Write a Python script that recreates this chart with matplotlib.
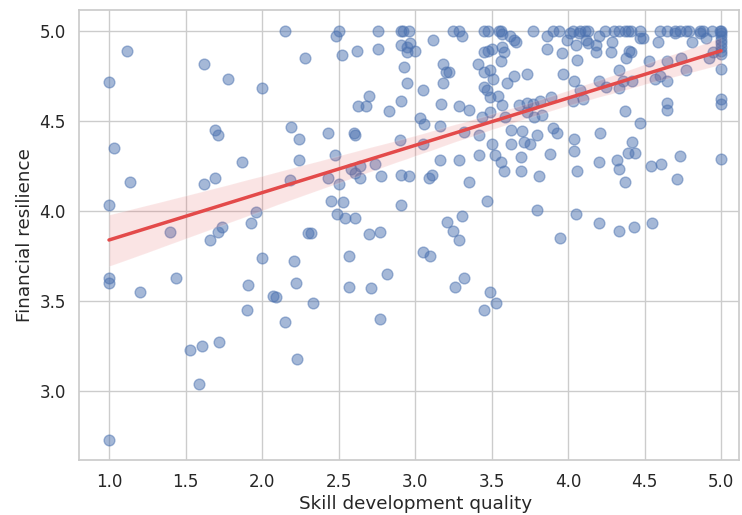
import numpy as np
import matplotlib
matplotlib.use("Agg")
import matplotlib.pyplot as plt
import seaborn as sns

# (skill development quality, financial resilience) pairs,
# grouped by x band
band_1_to_2 = [
    (1.0, 4.715), (1.0, 4.03), (1.0, 3.63), (1.0, 3.60), (1.0, 2.73),
    (1.115, 4.89), (1.03, 4.35), (1.14, 4.16), (1.20, 3.55), (1.40, 3.885),
    (1.435, 3.63), (1.53, 3.23), (1.59, 3.04), (1.61, 3.25), (1.62, 4.815),
    (1.62, 4.15), (1.66, 3.84), (1.69, 4.45), (1.69, 4.18), (1.71, 4.42),
    (1.72, 3.27), (1.71, 3.88), (1.74, 3.91), (1.78, 4.73), (1.87, 4.27),
    (1.905, 3.45), (1.91, 3.59), (1.93, 3.93), (1.96, 3.995),
]
band_2_to_3 = [
    (2.0, 4.68), (2.0, 3.74), (2.07, 3.53), (2.09, 3.52), (2.15, 5.0),
    (2.15, 3.385), (2.18, 4.17), (2.19, 4.465), (2.21, 3.72), (2.22, 3.60),
    (2.24, 4.40), (2.24, 4.28), (2.23, 3.18), (2.28, 4.85), (2.30, 3.876),
    (2.32, 3.876), (2.33, 3.49), (2.43, 4.435), (2.43, 4.185), (2.45, 4.055),
    (2.475, 4.31), (2.486, 4.974), (2.503, 5.0), (2.50, 4.15), (2.52, 4.865),
    (2.53, 4.05), (2.49, 3.98), (2.54, 3.96), (2.61, 3.96), (2.57, 3.75),
    (2.57, 3.58), (2.58, 4.23), (2.60, 4.43), (2.61, 4.42), (2.61, 4.21),
    (2.62, 4.89), (2.63, 4.58), (2.64, 4.185), (2.64, 4.25), (2.68, 4.58),
    (2.70, 4.64), (2.70, 3.87), (2.71, 3.57), (2.74, 4.26), (2.76, 5.0),
    (2.76, 4.90), (2.77, 3.885), (2.77, 3.40), (2.78, 4.195), (2.82, 3.65),
    (2.83, 4.555), (2.90, 4.395), (2.91, 5.0), (2.92, 5.0), (2.96, 5.0),
    (2.91, 4.92), (2.93, 4.80), (2.91, 4.61), (2.91, 4.20), (2.91, 4.03),
    (2.946, 4.91), (2.968, 4.93), (2.95, 4.88), (2.95, 4.71), (2.96, 4.195),
]
band_3_to_3_6 = [
    (3.0, 4.89), (3.03, 4.515), (3.05, 4.67), (3.05, 4.37), (3.06, 4.48),
    (3.05, 3.77), (3.10, 3.75), (3.09, 4.18), (3.11, 4.20), (3.12, 4.95),
    (3.16, 4.47), (3.16, 4.28), (3.17, 4.595), (3.18, 4.815), (3.18, 4.71),
    (3.20, 4.77), (3.22, 4.77), (3.21, 3.94), (3.25, 5.0), (3.25, 3.89),
    (3.26, 3.58), (3.29, 5.0), (3.29, 4.58), (3.29, 4.28), (3.29, 3.84),
    (3.31, 4.97), (3.31, 3.97), (3.32, 4.44), (3.32, 3.63), (3.35, 4.56),
    (3.35, 4.16), (3.41, 4.815), (3.42, 4.42), (3.42, 4.31), (3.44, 4.52),
    (3.45, 5.0), (3.45, 4.88), (3.45, 4.77), (3.45, 4.69), (3.45, 3.45),
    (3.47, 4.67), (3.47, 4.055), (3.48, 5.0), (3.48, 4.89), (3.49, 4.78),
    (3.49, 4.63), (3.49, 4.55), (3.49, 3.55), (3.50, 4.90), (3.50, 4.37),
    (3.51, 4.73), (3.52, 4.31), (3.53, 3.49), (3.54, 4.64), (3.55, 5.0),
    (3.56, 5.0), (3.56, 4.27), (3.57, 4.98), (3.57, 4.59), (3.58, 4.22),
    (3.57, 4.91), (3.58, 4.885), (3.56, 4.83), (3.59, 4.52),
]
band_3_6_to_4_3 = [
    (3.77, 5.0), (3.90, 5.0), (3.94, 5.0), (4.03, 5.0), (4.08, 5.0),
    (4.11, 5.0), (4.13, 5.0), (4.24, 5.0), (3.62, 4.97), (3.65, 4.95),
    (3.66, 4.94), (3.86, 4.97), (3.99, 4.95), (4.01, 4.99), (4.07, 4.99),
    (4.12, 4.95), (4.13, 4.93), (4.20, 4.97), (4.29, 4.94), (3.86, 4.90),
    (3.96, 4.875), (4.05, 4.92), (4.06, 4.84), (4.18, 4.92), (4.18, 4.88),
    (4.28, 4.88), (3.65, 4.75), (3.73, 4.76), (3.60, 4.71), (3.97, 4.76),
    (4.04, 4.72), (4.20, 4.72), (4.25, 4.69), (3.89, 4.635), (3.82, 4.61),
    (3.77, 4.595), (3.73, 4.60), (3.68, 4.59), (3.73, 4.55), (3.78, 4.52),
    (3.83, 4.53), (4.08, 4.67), (4.03, 4.61), (4.10, 4.62), (3.63, 4.45),
    (3.70, 4.445), (3.80, 4.42), (3.90, 4.46), (3.93, 4.43), (3.63, 4.37),
    (3.71, 4.385), (3.75, 4.37), (3.88, 4.315), (4.04, 4.40), (4.04, 4.335),
    (4.21, 4.435), (3.69, 4.30), (3.69, 4.22), (3.81, 4.195), (4.06, 4.22),
    (4.20, 4.27), (3.80, 4.005), (4.05, 3.98), (4.20, 3.935), (3.95, 3.85),
]
band_4_3_to_5 = [
    (4.30, 5.0), (4.33, 5.0), (4.37, 5.0), (4.39, 5.0), (4.41, 5.0),
    (4.47, 5.0), (4.60, 5.0), (4.65, 5.0), (4.70, 5.0), (4.73, 5.0),
    (4.77, 5.0), (4.79, 5.0), (4.86, 5.0), (4.88, 5.0), (4.94, 5.0),
    (4.99, 5.0), (4.47, 4.96), (4.49, 4.96), (4.59, 4.94), (4.70, 4.99),
    (4.81, 4.94), (4.86, 4.99), (4.90, 4.96), (4.40, 4.89), (4.41, 4.88),
    (4.38, 4.85), (4.53, 4.83), (4.65, 4.835), (4.74, 4.85), (4.77, 4.78),
    (4.92, 4.85), (4.95, 4.88), (4.33, 4.78), (4.33, 4.68), (4.36, 4.72),
    (4.42, 4.72), (4.57, 4.73), (4.60, 4.75), (4.65, 4.72), (4.65, 4.60),
    (4.65, 4.56), (4.37, 4.555), (4.47, 4.49), (4.42, 4.385), (4.395, 4.32),
    (4.44, 4.32), (4.73, 4.305), (4.32, 4.28), (4.33, 4.23), (4.37, 4.16),
    (4.54, 4.25), (4.61, 4.26), (4.71, 4.175), (4.33, 3.89), (4.43, 3.91),
    (4.55, 3.935),
]
column_at_5 = [
    (5.0, 5.0), (5.0, 4.99), (5.0, 4.97), (5.0, 4.95), (5.0, 4.93),
    (5.0, 4.91), (5.0, 4.89), (5.0, 4.87), (5.0, 4.79), (5.0, 4.62),
    (5.0, 4.595), (5.0, 4.29),
]

points = band_1_to_2 + band_2_to_3 + band_3_to_3_6 + band_3_6_to_4_3 + band_4_3_to_5 + column_at_5
skill = np.array([p[0] for p in points])
resilience = np.array([p[1] for p in points])

sns.set_theme(style="whitegrid", font_scale=1.1)
plt.rcParams['font.family'] = ['DejaVu Sans']

fig = plt.figure(figsize=(7.42, 5.15), dpi=100)
ax = fig.add_axes([0.1065, 0.107, 0.89, 0.874])

sns.regplot(x=skill, y=resilience, ax=ax, seed=0,
            scatter_kws={'alpha': 0.5, 's': 60, 'color': '#4c72b0'},
            line_kws={'color': '#e34a4a', 'linewidth': 2.5})

ax.set_xlim(0.804, 5.12)
ax.set_ylim(2.617, 5.117)
ax.set_xlabel('Skill development quality')
ax.set_ylabel('Financial resilience')
ax.set_xticks([1.0, 1.5, 2.0, 2.5, 3.0, 3.5, 4.0, 4.5, 5.0])
ax.set_yticks([3.0, 3.5, 4.0, 4.5, 5.0])
# original figure was cropped on the right, so the label sits a bit right of centre
ax.xaxis.set_label_coords(0.51, -0.077)

fig.savefig('out.png', dpi=100)
